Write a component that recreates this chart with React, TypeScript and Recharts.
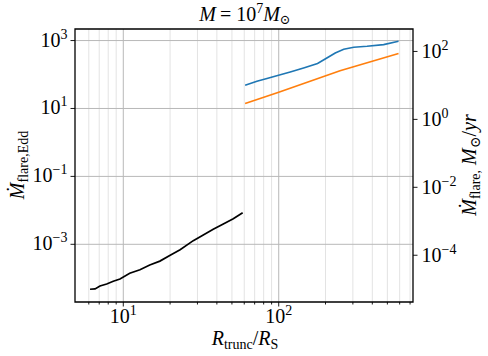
import React from "react";
import {
  LineChart,
  Line,
  XAxis,
  YAxis,
  CartesianGrid,
  ReferenceArea,
} from "recharts";

// ---- data ----
const blackR = [6.11, 6.58, 7.08, 7.82, 8.62, 9.52, 11.0, 12.8, 14.8, 17.2, 19.9, 23.2, 28.2, 32.7, 37.9, 44.0, 51.0, 58.6];
const blackRate = [4.74e-5, 4.84e-5, 5.94e-5, 6.8e-5, 8.2e-5, 9.55e-5, 1.4e-4, 1.78e-4, 2.47e-4, 3.2e-4, 4.7e-4, 6.9e-4, 1.28e-3, 1.88e-3, 2.76e-3, 3.95e-3, 5.67e-3, 8.5e-3];

const blueR = [60.8, 72.4, 84.0, 99.7, 118.6, 144.5, 177.8, 204, 231, 262, 304, 370, 473, 590];
const blueRate = [48.4, 63.5, 76.3, 95.3, 119, 156, 211, 308, 432, 554, 635, 679, 762, 955];

// orange is read on the right axis (solar masses per year)
const orangeR = [60.8, 100, 248, 590];
const orangeRate = [2.94, 6.3, 27, 86.7];

const xDomain: [number, number] = [4.89, 731];
const leftDomain: [number, number] = [2.0e-5, 2190];
const rightDomain: [number, number] = [4.2e-6, 458];

const xMajorTicks = [10, 100];
const xMinorTicks = [6, 7, 8, 9, 20, 30, 40, 50, 60, 70, 80, 90, 200, 300, 400, 500, 600, 700];
const leftTicks = [1e-3, 1e-1, 10, 1000];
const rightTicks = [1e-4, 1e-2, 1, 100];

const toPoints = (xs: number[], ys: number[]) => xs.map((x, i) => ({ x, y: ys[i] }));
const blackData = toPoints(blackR, blackRate);
const blueData = toPoints(blueR, blueRate);
const orangeData = toPoints(orangeR, orangeRate);

const FONT = "'Liberation Serif', 'DejaVu Serif', serif";
const TICK_FS = 20;
const SUP_FS = 14;
const fontStyle = { fontFamily: FONT };

const expOf = (v: number) => Math.round(Math.log10(v));
const supText = (e: number) => (e < 0 ? "\u2212" + Math.abs(e) : String(e));

const XTick = (props: any) => {
  const { x, y, payload } = props;
  const major = xMajorTicks.includes(payload.value);
  return (
    <g>
      <line x1={x} x2={x} y1={y} y2={y + (major ? 4.5 : 2.5)} stroke="#000" strokeWidth={0.9} />
      {major && (
        <text x={x} y={y + 21} textAnchor="middle" style={fontStyle} fontSize={TICK_FS} fill="#000">
          <tspan>10</tspan>
          <tspan dy={-8} fontSize={SUP_FS}>{supText(expOf(payload.value))}</tspan>
        </text>
      )}
    </g>
  );
};

const LeftTick = (props: any) => {
  const { x, y, payload } = props;
  return (
    <g>
      <line x1={x} x2={x - 4.5} y1={y} y2={y} stroke="#000" strokeWidth={0.9} />
      <text x={x - 7.5} y={y + 6} textAnchor="end" style={fontStyle} fontSize={TICK_FS} fill="#000">
        <tspan>10</tspan>
        <tspan dy={-8} fontSize={SUP_FS}>{supText(expOf(payload.value))}</tspan>
      </text>
    </g>
  );
};

const RightTick = (props: any) => {
  const { x, y, payload } = props;
  return (
    <g>
      <line x1={x} x2={x + 4.5} y1={y} y2={y} stroke="#000" strokeWidth={0.9} />
      <text x={x + 8.5} y={y + 6.5} textAnchor="start" style={fontStyle} fontSize={TICK_FS} fill="#000">
        <tspan>10</tspan>
        <tspan dy={-8} fontSize={SUP_FS}>{supText(expOf(payload.value))}</tspan>
      </text>
    </g>
  );
};

const Labels = () => (
  <svg width={488} height={356} style={{ position: "absolute", left: 0, top: 0, pointerEvents: "none" }}>
    {/* title */}
    <text x={245} y={21} textAnchor="middle" style={fontStyle} fontSize={20} fill="#000">
      <tspan fontStyle="italic">M</tspan>
      <tspan>{"\u2009= 10"}</tspan>
      <tspan dy={-8} fontSize={14}>7</tspan>
      <tspan dy={8} fontStyle="italic">M</tspan>
      <tspan dy={3} fontSize={13}>{"\u2299"}</tspan>
    </text>
    {/* x label */}
    <text x={245} y={345} textAnchor="middle" style={fontStyle} fontSize={20} fill="#000">
      <tspan fontStyle="italic">R</tspan>
      <tspan dy={4} fontSize={14}>trunc</tspan>
      <tspan dy={-4}>/</tspan>
      <tspan fontStyle="italic">R</tspan>
      <tspan dy={4} fontSize={14}>S</tspan>
    </text>
    {/* left y label */}
    <text
      x={24}
      y={165}
      transform="rotate(-90, 24, 165)"
      textAnchor="middle"
      style={fontStyle}
      fontSize={20}
      fill="#000"
    >
      <tspan fontStyle="italic">{"\u1E40"}</tspan>
      <tspan dy={4} fontSize={14}>flare,Edd</tspan>
    </text>
    {/* right y label */}
    <text
      x={476}
      y={165}
      transform="rotate(-90, 476, 165)"
      textAnchor="middle"
      style={fontStyle}
      fontSize={20}
      fill="#000"
    >
      <tspan fontStyle="italic">{"\u1E40"}</tspan>
      <tspan dy={4} fontSize={14}>flare,</tspan>
      <tspan dy={-4}> </tspan>
      <tspan fontStyle="italic">M</tspan>
      <tspan dy={4} fontSize={14}>{"\u2299"}</tspan>
      <tspan dy={-4}>/</tspan>
      <tspan fontStyle="italic">yr</tspan>
    </text>
  </svg>
);

export default function App() {
  return (
    <div style={{ position: "absolute", left: 0, top: 0, width: 488, height: 356, background: "#fff" }}>
      <LineChart width={488} height={356} margin={{ top: 29, right: 0, bottom: 0, left: 0 }}>
        <CartesianGrid
          horizontal={false}
          vertical
          verticalValues={xMinorTicks}
          stroke="#e3e3e3"
          strokeWidth={1}
        />
        <CartesianGrid
          horizontal
          vertical
          verticalValues={xMajorTicks}
          horizontalValues={leftTicks}
          stroke="#b8b8b8"
          strokeWidth={1}
        />
        <XAxis
          dataKey="x"
          type="number"
          scale="log"
          domain={xDomain}
          allowDataOverflow
          ticks={[...xMinorTicks, ...xMajorTicks].sort((a, b) => a - b)}
          interval={0}
          height={54}
          tickSize={0}
          tickMargin={0}
          axisLine={false}
          tickLine={false}
          tick={<XTick />}
        />
        <YAxis
          type="number"
          scale="log"
          domain={leftDomain}
          allowDataOverflow
          ticks={leftTicks}
          interval={0}
          width={75}
          tickSize={0}
          tickMargin={0}
          axisLine={false}
          tickLine={false}
          tick={<LeftTick />}
        />
        <YAxis
          yAxisId="right"
          orientation="right"
          type="number"
          scale="log"
          domain={rightDomain}
          allowDataOverflow
          ticks={rightTicks}
          interval={0}
          width={75}
          tickSize={0}
          tickMargin={0}
          axisLine={false}
          tickLine={false}
          tick={<RightTick />}
        />
        <Line data={blackData} dataKey="y" stroke="#000000" strokeWidth={1.7} dot={false} isAnimationActive={false} />
        <Line data={blueData} dataKey="y" stroke="#1f77b4" strokeWidth={1.7} dot={false} isAnimationActive={false} />
        <Line
          data={orangeData}
          yAxisId="right"
          dataKey="y"
          stroke="#ff7f0e"
          strokeWidth={1.7}
          dot={false}
          isAnimationActive={false}
        />
        <ReferenceArea
          x1={xDomain[0]}
          x2={xDomain[1]}
          y1={leftDomain[0]}
          y2={leftDomain[1]}
          fill="none"
          fillOpacity={0}
          stroke="#000"
          strokeOpacity={1}
          strokeWidth={1.3}
          ifOverflow="visible"
        />
      </LineChart>
      <Labels />
    </div>
  );
}
